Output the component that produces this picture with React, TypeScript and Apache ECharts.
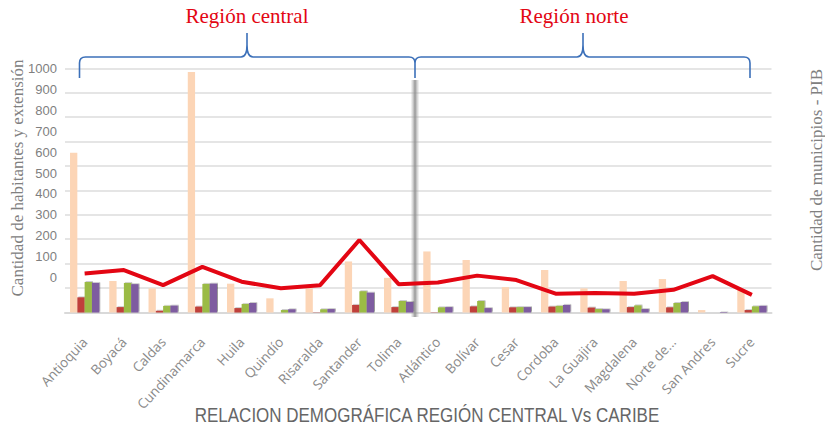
import React, { useEffect, useRef } from "react";
import * as echarts from "echarts";

const categories = [
  "Antioquia", "Boyacá", "Caldas", "Cundinamarca", "Huila", "Quindío", "Risaralda",
  "Santander", "Tolima", "Atlántico", "Bolívar", "Cesar", "Cordoba", "La Guajira",
  "Magdalena", "Norte de...", "San Andres", "Sucre",
];
const serieDurazno = [654, 129, 99, 985, 118, 58, 99, 209, 142, 250, 215, 104, 174, 99, 129, 137, 10, 92];
const serieRoja = [62, 22, 7, 24, 18, 0, 1, 31, 22, 1, 25, 21, 24, 20, 22, 21, 0, 10];
const serieVerde = [125, 121, 27, 117, 35, 10, 13, 87, 47, 21, 47, 22, 27, 14, 29, 39, 0, 25];
const serieMorada = [121, 116, 28, 118, 39, 13, 14, 81, 43, 22, 18, 22, 31, 13, 14, 43, 2, 27];
const serieLinea = [160, 174, 112, 187, 126, 99, 112, 297, 116, 123, 151, 133, 77, 80, 77, 93, 149, 72];

const axisMin = 0;
const axisMax = 1000;
const axisStep = 100;

const titleText = "RELACION DEMOGRÁFICA REGIÓN CENTRAL Vs CARIBE";
const leftAxisName = "Cantidad de habitantes y extensión";
const rightAxisName = "Cantidad de municipios - PIB";
const regionCentral = "Región central";
const regionNorte = "Región norte";

const braceD =
  "M79.5 78 L79.5 63 Q79.5 57 85.5 57 L241 57 Q247 57 247 45 L247 33 L247 45 Q247 57 253 57 L409 57 Q415 57 415 63 L415 78 " +
  "M415 78 L415 63 Q415 57 421 57 L577 57 Q583 57 583 45 L583 33 L583 45 Q583 57 589 57 L744 57 Q750 57 750 63 L750 78";

let registered = false;

export default function App() {
  const ref = useRef<HTMLDivElement>(null);
  useEffect(() => {
    document.body.style.margin = "0";
    if (!registered) {
      echarts.graphic.registerShape("braces", echarts.graphic.extendPath(braceD, {}));
      registered = true;
    }
    const chart = echarts.init(ref.current!, null, { renderer: "svg" });
    const shadow = {
      shadowColor: "rgba(0,0,0,0.4)",
      shadowBlur: 1.5,
      shadowOffsetX: 1,
      shadowOffsetY: -0.5,
    };
    chart.setOption({
      animation: false,
      backgroundColor: "#ffffff",
      grid: [
        { left: 65, right: 53.5, top: 68.3, bottom: 117.5 },
        { left: 65, right: 53.5, top: 68.3, height: 209.4 },
      ],
      xAxis: [
        {
          gridIndex: 0,
          type: "category",
          data: categories,
          axisLine: { lineStyle: { color: "#D9D9D9", width: 2 } },
          axisTick: { show: false },
          axisLabel: {
            interval: 0,
            rotate: 47,
            margin: 27,
            color: "#8a8a8a",
            fontSize: 13.5,
            fontFamily: "Open Sans",
          },
        },
        { gridIndex: 1, type: "category", data: categories, show: false },
      ],
      yAxis: [
        {
          gridIndex: 0,
          type: "value",
          min: axisMin,
          max: axisMax,
          interval: axisStep,
          axisLabel: { show: false },
          axisLine: { show: false },
          axisTick: { show: false },
          splitLine: { lineStyle: { color: "#DCDCDC", width: 1.5 } },
        },
        {
          gridIndex: 1,
          type: "value",
          min: axisMin,
          max: axisMax,
          interval: axisStep,
          axisLabel: {
            color: "#7f7f7f",
            fontSize: 13,
            fontFamily: "Liberation Sans",
            margin: 8,
            formatter: (v: number) => String(v),
          },
          axisLine: { show: false },
          axisTick: { show: false },
          splitLine: { show: false },
        },
      ],
      series: [
        {
          name: "Serie 1",
          type: "bar",
          data: serieDurazno,
          barWidth: 7.3,
          barGap: "0%",
          itemStyle: { color: "#FCD5B6" },
        },
        {
          name: "Serie 2",
          type: "bar",
          data: serieRoja,
          barWidth: 7.3,
          barGap: "0%",
          itemStyle: { color: "#C0403A", ...shadow },
        },
        {
          name: "Serie 3",
          type: "bar",
          data: serieVerde,
          barWidth: 7.3,
          barGap: "0%",
          itemStyle: { color: "#9BBB45", ...shadow },
        },
        {
          name: "Serie 4",
          type: "bar",
          data: serieMorada,
          barWidth: 7.3,
          barGap: "0%",
          itemStyle: { color: "#7E5BA0", ...shadow },
        },
        {
          name: "Serie 5",
          type: "line",
          data: serieLinea,
          symbol: "none",
          z: 5,
          lineStyle: { color: "#E30613", width: 4 },
        },
      ],
      graphic: [
        {
          type: "rect",
          z: 1,
          shape: { x: 410.5, y: 80, width: 9, height: 237 },
          style: {
            fill: {
              type: "linear",
              x: 0,
              y: 0,
              x2: 1,
              y2: 0,
              colorStops: [
                { offset: 0, color: "rgba(180,180,180,0)" },
                { offset: 0.5, color: "rgba(140,140,140,0.9)" },
                { offset: 1, color: "rgba(180,180,180,0)" },
              ],
            },
          },
        },
        {
          type: "braces",
          x: 0,
          y: 0,
          z: 10,
          style: { stroke: "#3C70B9", lineWidth: 1.6, fill: "none" },
        },
        {
          type: "text",
          x: 247,
          y: 16,
          z: 10,
          style: {
            text: regionCentral,
            fill: "#E30613",
            font: "21px 'Liberation Serif'",
            align: "center",
            verticalAlign: "middle",
          },
        },
        {
          type: "text",
          x: 574,
          y: 16,
          z: 10,
          style: {
            text: regionNorte,
            fill: "#E30613",
            font: "21px 'Liberation Serif'",
            align: "center",
            verticalAlign: "middle",
          },
        },
        {
          type: "text",
          x: 17,
          y: 178,
          rotation: Math.PI / 2,
          z: 10,
          style: {
            text: leftAxisName,
            fill: "#808080",
            font: "17px 'Liberation Serif'",
            align: "center",
            verticalAlign: "middle",
          },
        },
        {
          type: "text",
          x: 816,
          y: 170,
          rotation: Math.PI / 2,
          z: 10,
          style: {
            text: rightAxisName,
            fill: "#808080",
            font: "17px 'Liberation Serif'",
            align: "center",
            verticalAlign: "middle",
          },
        },
        {
          type: "text",
          x: 427,
          y: 415,
          scaleY: 1.15,
          z: 10,
          style: {
            text: titleText,
            fill: "#666666",
            font: "17px 'Liberation Sans'",
            align: "center",
            verticalAlign: "middle",
          },
        },
      ],
    });
    return () => chart.dispose();
  }, []);
  return <div ref={ref} style={{ width: 825, height: 430 }} />;
}
